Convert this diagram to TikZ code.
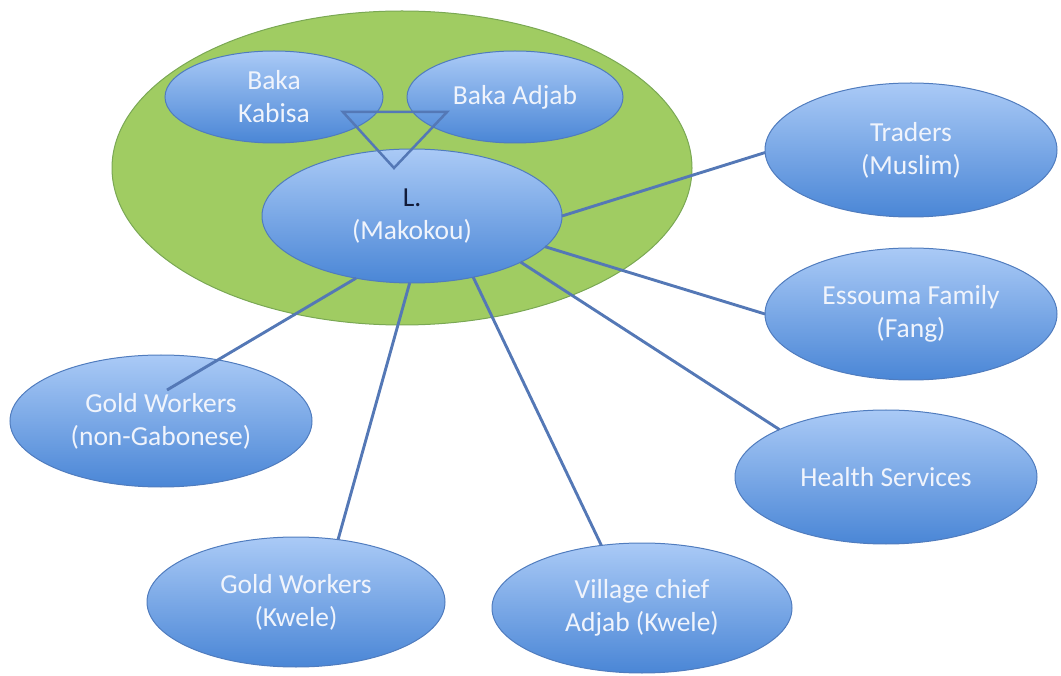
\documentclass[tikz,border=0pt]{standalone}
\usepackage{fontspec}
\setmainfont{Carlito}
\usetikzlibrary{shapes.geometric}
\definecolor{grn}{RGB}{160,204,98}
\definecolor{grnedge}{RGB}{122,168,84}
\definecolor{btop}{RGB}{170,202,246}
\definecolor{bbot}{RGB}{74,134,214}
\definecolor{bedge}{RGB}{80,124,190}
\definecolor{linkc}{RGB}{84,120,182}
\definecolor{darktext}{RGB}{18,28,58}
\definecolor{lighttext}{RGB}{240,244,252}
\begin{document}
\begin{tikzpicture}[x=1pt,y=-1pt,
  blob/.style={ellipse, inner sep=0pt, outer sep=0pt, draw=bedge, line width=1pt,
    top color=btop, bottom color=bbot, text=lighttext, align=center,
    font=\fontsize{27.5}{33}\selectfont},
  linkline/.style={draw=linkc, line width=2.9pt},
  triline/.style={draw=linkc, line width=2.5pt, line join=miter},
]
\useasboundingbox (0,0) rectangle (1061,676);
\node[ellipse, inner sep=0pt, outer sep=0pt, minimum width=580pt, minimum height=314pt,
  fill=grn, draw=grnedge, line width=1pt] (group) at (402,168) {};
\node[blob, minimum width=218pt, minimum height=92pt] (kabisa) at (274,97) {Baka\\Kabisa};
\node[blob, minimum width=216pt, minimum height=92pt] (adjab) at (515,97) {Baka Adjab};
\node[blob, minimum width=300pt, minimum height=134pt] (L) at (412,216) {\textcolor{darktext}{L.}\\(Makokou)};
\node[blob, minimum width=292pt, minimum height=134pt] (traders) at (911,150) {Traders\\(Muslim)};
\node[blob, minimum width=292pt, minimum height=132pt] (essouma) at (911,314) {Essouma Family\\(Fang)};
\node[blob, minimum width=302pt, minimum height=134pt] (health) at (886,477) {Health Services};
\node[blob, minimum width=300pt, minimum height=130pt] (village) at (642,608) {Village chief\\Adjab (Kwele)};
\node[blob, minimum width=298pt, minimum height=130pt] (gkwele) at (296,602) {Gold Workers\\(Kwele)};
\node[blob, minimum width=302pt, minimum height=132pt] (gnon) at (161,421) {Gold Workers\\(non-Gabonese)};
\coordinate (gnonin) at (167,390);
\coordinate (t1) at (343,112);
\coordinate (t2) at (447,112);
\coordinate (t3) at (394,168);
\draw[linkline] (L.-0.4) -- (traders.181);
\draw[linkline] (L.-13) -- (essouma.180);
\draw[linkline] (L.-23) -- (health.156);
\draw[linkline] (L.-45) -- (village.123);
\draw[linkline] (L.-92) -- (gkwele.56);
\draw[linkline] (L.-132) -- (gnonin);
\draw[triline] (t1) -- (t2) -- (t3) -- cycle;
\end{tikzpicture}
\end{document}
